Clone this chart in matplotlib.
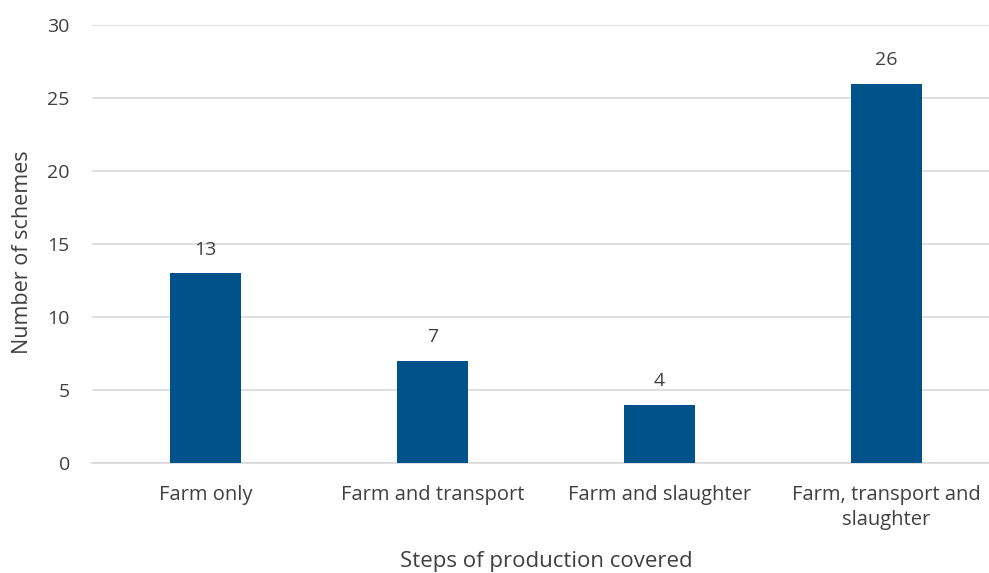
import matplotlib.pyplot as plt

categories = ['Farm only', 'Farm and transport', 'Farm and slaughter', 'Farm, transport and\nslaughter']
counts = [13, 7, 4, 26]

plt.rcParams['font.family'] = ['Open Sans', 'DejaVu Sans']

fig = plt.figure(figsize=(9.89, 5.73), dpi=100)
# axes run a bit past the right edge, like the original export
ax = fig.add_axes([0.093, 0.192, 0.918, 0.764])

x = range(len(categories))
bars = ax.bar(x, counts, width=0.313, color='#00528A', zorder=3)
for b, v in zip(bars, counts):
    ax.text(b.get_x() + b.get_width() / 2, v + 1.0, str(v), ha='center', va='bottom',
            fontsize=14, color='#404040')

ax.set_xlim(-0.5, len(categories) - 0.5)
ax.set_ylim(0, 30)
ax.set_yticks(range(0, 31, 5))
ax.set_xticks(list(x))
ax.set_xticklabels(categories, fontsize=14.5, color='#404040', linespacing=1.35)
ax.tick_params(axis='y', labelsize=14, labelcolor='#404040', length=0, pad=16)
ax.tick_params(axis='x', length=0, pad=16)
ax.grid(axis='y', color='#D9D9D9', linewidth=1.2, zorder=0)
for s in ['top', 'right', 'left']:
    ax.spines[s].set_visible(False)
ax.spines['bottom'].set_color('#D9D9D9')
ax.spines['bottom'].set_linewidth(1.2)

ax.set_xlabel('Steps of production covered', fontsize=16, color='#404040', va='center')
ax.xaxis.set_label_coords(0.5, -0.224)
ax.set_ylabel('Number of schemes', fontsize=15.5, color='#404040', va='center')
ax.yaxis.set_label_coords(-0.077, 0.482)

fig.savefig('out.png', dpi=100)
